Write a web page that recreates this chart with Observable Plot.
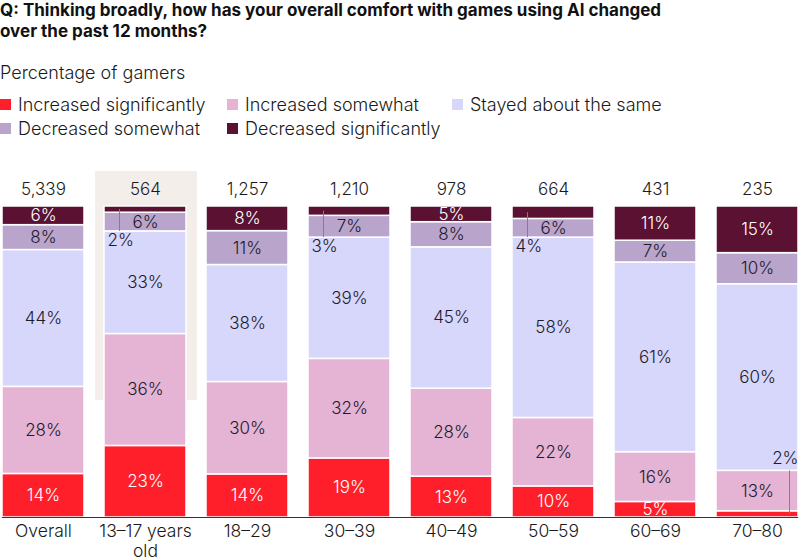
<!DOCTYPE html>
<html><head><meta charset="utf-8">
<script src="https://cdn.jsdelivr.net/npm/d3@7"></script>
<script src="https://cdn.jsdelivr.net/npm/@observablehq/plot@0.6"></script>
<style>
body{margin:0;background:#fff;font-family:Inter,Roboto,"Noto Sans",sans-serif;color:#1a1a1a}
#wrap{position:relative;width:800px;height:560px;overflow:hidden}
.title{position:absolute;left:0;top:0;font-weight:700;font-size:17px;line-height:21px;letter-spacing:0px;color:#111}
.sub{position:absolute;left:0;top:62px;font-size:18px;line-height:22px;font-weight:300}
.legend{position:absolute;left:0;top:93px;display:grid;grid-template-columns:227px 225px auto;row-gap:2px;font-size:18px;font-weight:300}
.item{display:flex;align-items:center;height:22px;white-space:nowrap}
.sw{width:11px;height:11px;margin-right:7px;flex:none}
#chart{position:absolute;left:0;top:160px}
</style></head>
<body>
<div id="wrap">
  <div class="title">Q: Thinking broadly, how has your overall comfort with games using AI changed<br>over the past 12 months?</div>
  <div class="sub">Percentage of gamers</div>
  <div class="legend" id="legend"></div>
  <div id="chart"></div>
</div>
<script>
const categories = ["Overall","13–17 years old","18–29","30–39","40–49","50–59","60–69","70–80"];
const counts = [5339,564,1257,1210,978,664,431,235];
const seriesNames = ["Increased significantly","Increased somewhat","Stayed about the same","Decreased somewhat","Decreased significantly"];
const increasedSignificantly = [14,23,14,19,13,10,5,2];
const increasedSomewhat = [28,36,30,32,28,22,16,13];
const stayedSame = [44,33,38,39,45,58,61,60];
const decreasedSomewhat = [8,6,11,7,8,6,7,10];
const decreasedSignificantly = [6,2,8,3,5,4,11,15];
const colors = ["#ff1f2b","#e5b3d4","#d7d6fb","#b9a4cb","#5a1132"];
const highlighted = ["13–17 years old"];
const darkSeries = ["Increased significantly","Decreased significantly"];

const seriesValues = [increasedSignificantly, increasedSomewhat, stayedSame, decreasedSomewhat, decreasedSignificantly];

// legend
const leg = document.getElementById("legend");
seriesNames.forEach((s,i)=>{
  const it = document.createElement("div"); it.className="item";
  if (i===3) it.style.gridColumn = "1";
  it.innerHTML = `<span class="sw" style="background:${colors[i]}"></span>${s}`;
  leg.appendChild(it);
});

// stacked rows (normalized)
const rows = [];
categories.forEach((c,ci)=>{
  const total = d3.sum(seriesValues, v=>v[ci]);
  let cum = 0;
  seriesNames.forEach((s,si)=>{
    const v = seriesValues[si][ci];
    rows.push({category:c, series:s, si, value:v, y1:cum/total, y2:(cum+v)/total, callout: v < 5});
    cum += v;
  });
});
const find = (c,si)=>rows.find(r=>r.category===c && r.si===si);
const topCallouts = rows.filter(r=>r.callout && r.si===4).map(r=>({...r, ymid:(r.y1+r.y2)/2, yend:find(r.category,3).y1}));
const bottomCallouts = rows.filter(r=>r.callout && r.si===0).map(r=>({...r, ymid:(r.y1+r.y2)/2, yend:find(r.category,1).y2}));
const inline = rows.filter(r=>!r.callout);
const pct = d=>d.value+"%";

const chart = Plot.plot({
  width: 800, height: 400,
  marginTop: 46, marginBottom: 43, marginLeft: 2, marginRight: 2,
  x: {domain: categories, paddingInner: 0.2, paddingOuter: 0, axis: null, label: null},
  y: {domain: [0,1], axis: null},
  color: {domain: seriesNames, range: colors},
  style: {fontFamily: "Inter, Roboto, 'Noto Sans', sans-serif", fontSize: "16px", overflow: "visible", background: "transparent"},
  marks: [
    Plot.barY(highlighted, {x: d=>d, y1: 0, y2: 1, insetTop: -35, insetBottom: 117, insetLeft: -9, insetRight: -11, fill: "#f4eeeb"}),
    Plot.barY(rows, {x:"category", y1:"y1", y2:"y2", fill:"series", stroke:"white", strokeWidth:1.5}),
    Plot.ruleY([0], {stroke:"#333", strokeWidth:1}),
    Plot.text(inline.filter(d=>darkSeries.includes(d.series)), {x:"category", y:d=>(d.y1+d.y2)/2, text:pct, fill:"white", fontSize:17, fontWeight:300}),
    Plot.text(inline.filter(d=>!darkSeries.includes(d.series)), {x:"category", y:d=>(d.y1+d.y2)/2, text:pct, fill:"#1e1b2c", fontSize:17, fontWeight:300}),
    Plot.ruleX(topCallouts, {x:"category", y1:"ymid", y2:"yend", dx:-26, stroke:"#857c99", strokeWidth:1}),
    Plot.text(topCallouts, {x:"category", y:"yend", text:pct, dx:-38, dy:9, textAnchor:"start", fill:"#1e1b2c", fontSize:17, fontWeight:300}),
    Plot.ruleX(bottomCallouts, {x:"category", y1:"ymid", y2:"yend", dx:32, stroke:"#857c99", strokeWidth:1}),
    Plot.text(bottomCallouts, {x:"category", y:"yend", text:pct, dx:41, dy:-12, textAnchor:"end", fill:"#1e1b2c", fontSize:17, fontWeight:300}),
    Plot.text(categories, {x:d=>d, y:1, text:(d,i)=>counts[i].toLocaleString("en-US"), dy:-17, fill:"#1a1a1a", fontSize:17, fontWeight:300}),
    Plot.axisX({tickSize:0, tickPadding:5, fontSize:17.5, fontWeight:300, lineHeight:1.15, fill:"#1a1a1a", label:null, tickFormat:d=>d.replace(" old","\nold")})
  ]
});
document.getElementById("chart").appendChild(chart);
</script>
</body></html>
